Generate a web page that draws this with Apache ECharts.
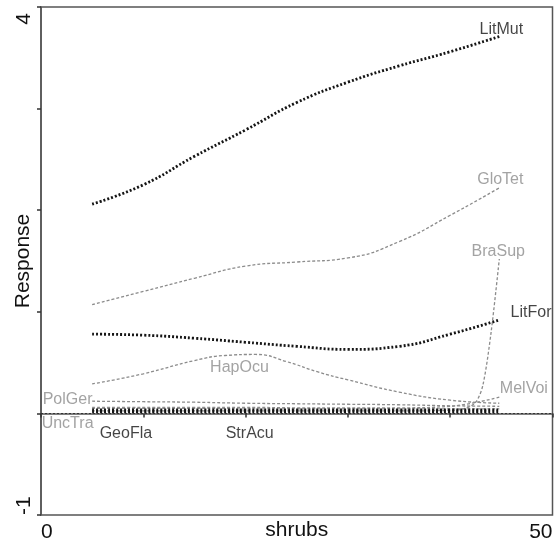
<!DOCTYPE html>
<html>
<head>
<meta charset="utf-8">
<script src="https://cdn.jsdelivr.net/npm/echarts@6/dist/echarts.min.js"></script>
<style>html,body{margin:0;padding:0;background:#fff}#c{width:554px;height:551px}</style>
</head>
<body>
<div id="c"></div>
<script>
// x positions (shrubs) where curves are sampled
const xs = [5, 10, 15, 20, 25, 30, 35, 40, 44.8];
const LitMut = [2.06, 2.25, 2.53, 2.79, 3.06, 3.26, 3.42, 3.56, 3.71];
const GloTet = [1.07, 1.20, 1.33, 1.45, 1.49, 1.53, 1.69, 1.95, 2.22];
const LitFor = [0.78, 0.77, 0.74, 0.70, 0.66, 0.63, 0.66, 0.78, 0.92];
const xsHapOcu = [5, 10, 15, 18, 21, 24, 27, 30, 35, 40, 44.8];
const HapOcu = [0.29, 0.39, 0.52, 0.57, 0.58, 0.51, 0.41, 0.33, 0.21, 0.13, 0.10];
const PolGer = [0.12, 0.115, 0.11, 0.10, 0.095, 0.09, 0.085, 0.075, 0.07];
const MelVoi = [0.06, 0.06, 0.06, 0.06, 0.055, 0.055, 0.055, 0.07, 0.16];
const UncTra = [0.05, 0.05, 0.05, 0.045, 0.045, 0.045, 0.045, 0.045, 0.045];
const GeoFla = [0.035, 0.035, 0.035, 0.035, 0.035, 0.035, 0.035, 0.035, 0.035];
const StrAcu = [0.015, 0.015, 0.015, 0.015, 0.015, 0.015, 0.015, 0.015, 0.015];
const xsBraSup = [5, 10, 15, 20, 25, 30, 35, 40, 41.5, 42.5, 43.2, 44, 44.8];
const BraSup = [0.025, 0.025, 0.025, 0.025, 0.025, 0.025, 0.025, 0.03, 0.05, 0.11, 0.28, 0.80, 1.52];

// species labels: [name, x, y]
const speciesLabels = [
  ['LitMut', 45.0, 3.78],
  ['GloTet', 44.9, 2.30],
  ['BraSup', 44.7, 1.59],
  ['LitFor', 47.9, 0.99],
  ['MelVoi', 47.2, 0.24],
  ['HapOcu', 19.4, 0.45],
  ['PolGer', 2.6, 0.14],
  ['UncTra', 2.6, -0.10],
  ['GeoFla', 8.3, -0.20],
  ['StrAcu', 20.4, -0.20]
];
const blackSpecies = ['LitMut', 'LitFor', 'GeoFla', 'StrAcu'];

const xTickLabels = {0: '0', 50: '50'};
const yTickLabels = {'-1': '{mn|-1}', 4: '{mx|4}'};

const GRAY = '#8c8c8c';
const BLACK = '#151515';
const FONT = 'Liberation Sans';

function pairs(x, y) { return x.map((v, i) => [v, y[i]]); }
function blackLine(name, vals) {
  return { name, type: 'line', data: pairs(xs, vals), smooth: 0.5, symbol: 'none',
    lineStyle: { color: BLACK, width: 2.8, type: [2, 2] }, z: 3 };
}
function grayLine(name, x, vals, sm) {
  return { name, type: 'line', data: pairs(x, vals), smooth: sm, symbol: 'none',
    lineStyle: { color: GRAY, width: 1.3, type: [3, 2] }, z: 2 };
}

const series = [
  grayLine('GloTet', xs, GloTet, 0.5),
  grayLine('HapOcu', xsHapOcu, HapOcu, 0.5),
  grayLine('PolGer', xs, PolGer, 0.5),
  grayLine('MelVoi', xs, MelVoi, 0.4),
  grayLine('UncTra', xs, UncTra, 0.5),
  grayLine('BraSup', xsBraSup, BraSup, 0.3),
  blackLine('LitMut', LitMut),
  blackLine('LitFor', LitFor),
  blackLine('GeoFla', GeoFla),
  blackLine('StrAcu', StrAcu),
  {
    type: 'line', data: [], symbol: 'none', silent: true,
    markLine: { silent: true, symbol: 'none', label: { show: false },
      lineStyle: { color: '#333', width: 1, type: [2, 2] },
      data: [{ yAxis: 0 }] }
  },
  {
    type: 'scatter', symbolSize: 1, silent: true, z: 5,
    itemStyle: { color: 'transparent' },
    data: speciesLabels.map(l => ({ value: [l[1], l[2]], name: l[0],
      label: { color: blackSpecies.includes(l[0]) ? BLACK : GRAY } })),
    label: { show: true, position: 'inside', formatter: p => p.name,
      fontFamily: FONT, fontSize: 16 }
  }
];

const chart = echarts.init(document.getElementById('c'));
chart.setOption({
  animation: false,
  grid: { left: 41, top: 7, right: 1.5, bottom: 36, show: true, borderColor: '#555', borderWidth: 1.5,
    containLabel: false, outerBoundsMode: 'none' },
  xAxis: {
    type: 'value', min: 0, max: 50, interval: 10,
    name: 'shrubs', nameLocation: 'middle', nameGap: 5, nameMoveOverlap: false,
    nameTextStyle: { fontFamily: FONT, fontSize: 21, color: '#111' },
    axisLine: { lineStyle: { color: '#555', width: 1.5 } },
    axisTick: { show: true, length: 4, lineStyle: { color: '#333', width: 1.5 } },
    splitLine: { show: false },
    axisLabel: { formatter: v => xTickLabels[v] || '', fontFamily: FONT, fontSize: 21, color: '#111', margin: 7,
      alignMinLabel: 'left', alignMaxLabel: 'right' }
  },
  yAxis: {
    type: 'value', min: -1, max: 4, interval: 1,
    name: 'Response', nameLocation: 'middle', nameGap: 7, nameMoveOverlap: false,
    nameTextStyle: { fontFamily: FONT, fontSize: 21, color: '#111' },
    axisLine: { show: true, lineStyle: { color: '#555', width: 1.5 } },
    axisTick: { show: true, length: 4, lineStyle: { color: '#333', width: 1.5 } },
    splitLine: { show: false },
    axisLabel: { formatter: v => yTickLabels[v] || '', rotate: 90, fontFamily: FONT, fontSize: 21, color: '#111', margin: 6,
      alignMinLabel: 'left', alignMaxLabel: 'right',
      rich: { mx: { fontFamily: FONT, fontSize: 21, color: '#111', padding: [0, 6, 0, 0] },
              mn: { fontFamily: FONT, fontSize: 21, color: '#111', padding: [0, 0, 0, 0] } } }
  },
  series
});
</script>
</body>
</html>
